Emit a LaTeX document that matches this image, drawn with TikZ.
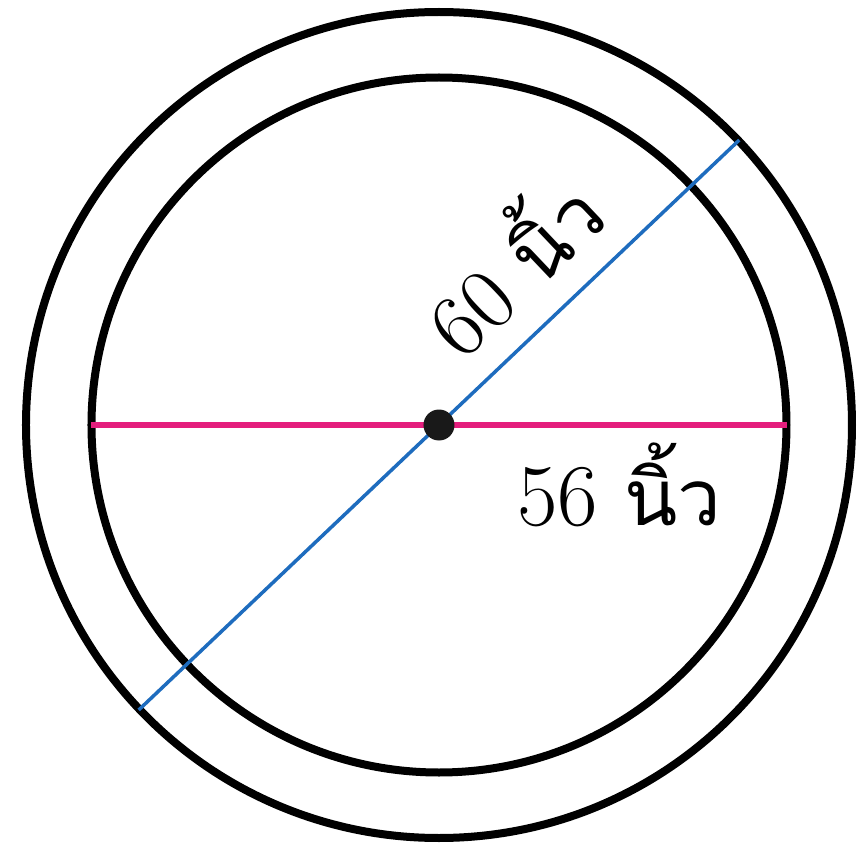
\documentclass[tikz,border=0pt]{standalone}
\usepackage{fontspec}
\usetikzlibrary{calc}
\newfontfamily\thaifont[Script=Thai]{Loma}
\definecolor{pinkline}{RGB}{228,30,125}
\definecolor{blueline}{RGB}{30,108,190}
\newcommand\thaiword{{\fontsize{78}{80}\thaifont นิ้ว}}
\tikzset{
  ring/.style={draw=black, line width=8pt},
  lbl/.style={inner sep=0pt, font=\fontsize{88}{90}\selectfont},
}
\begin{document}
\begin{tikzpicture}[x=1pt,y=1pt]
\useasboundingbox (-439,-419) rectangle (424,425);
\coordinate (c) at (0,0);
\node[ring, circle, minimum size=826pt, inner sep=0pt] (outer) at (c) {};
\node[ring, circle, minimum size=695pt, inner sep=0pt] (inner) at (c) {};
\coordinate (pl) at (-347.5,0);
\coordinate (pr) at (347.5,0);
\coordinate (b1) at (43.5:414);
\coordinate (b2) at (223.5:414);
\draw[pinkline, line width=6pt] (pl) -- (pr);
\draw[blueline, line width=3.5pt] (b2) -- (b1);
\fill[black!90] (c) circle (15.5);
\node[lbl, anchor=base west, rotate=43.5] (t60) at ($(c)+(43.5:60)+(133.5:29)$) {60 \thaiword};
\node[lbl, anchor=base west] (t56) at (78,-100) {56 \thaiword};
\end{tikzpicture}
\end{document}
